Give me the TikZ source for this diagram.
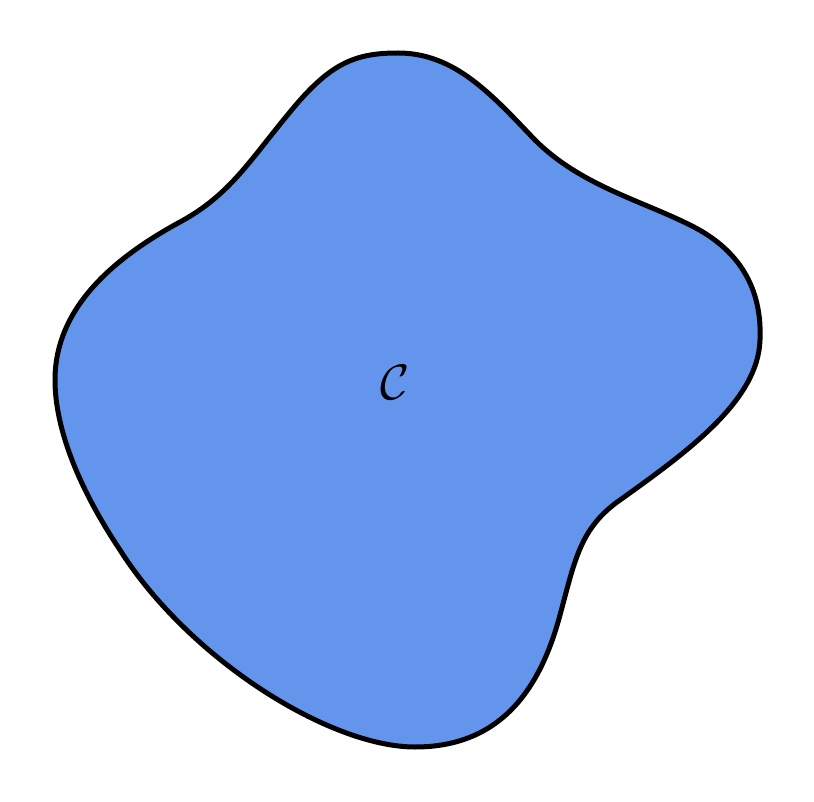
\documentclass[tikz,border=0pt]{standalone}
\usepackage{amsmath}
\definecolor{blobblue}{HTML}{6495ED}
\tikzset{blob/.style={draw=black,fill=blobblue,line width=2.5pt,line join=round}}
\begin{document}
\begin{tikzpicture}[x=0.5pt,y=-0.5pt]
\useasboundingbox (0,0) rectangle (814,802);
\draw[blob] (398,53) .. controls (455,53) and (492,95) .. (535,140)
  .. controls (580,185) and (640,200) .. (690,225)
  .. controls (745,252) and (762,295) .. (760,340)
  .. controls (758,400) and (690,450) .. (620,500)
  .. controls (580,528) and (575,560) .. (560,615)
  .. controls (540,690) and (500,747) .. (415,747)
  .. controls (330,747) and (190,660) .. (120,550)
  .. controls (80,490) and (55,430) .. (55,380)
  .. controls (55,310) and (110,260) .. (180,222)
  .. controls (230,195) and (250,160) .. (290,112)
  .. controls (330,63) and (355,53) .. (398,53) -- cycle;
\node (c) at (395,382) {\fontsize{23}{27}\selectfont$\mathcal{C}$};
\end{tikzpicture}
\end{document}
